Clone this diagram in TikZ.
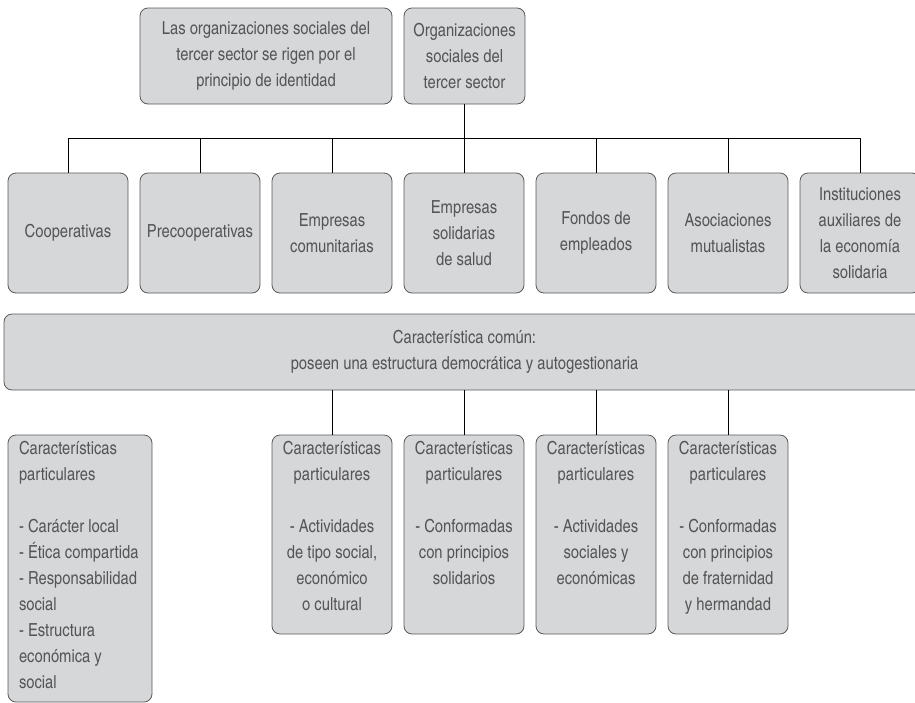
\documentclass[tikz,border=0pt]{standalone}
\usepackage{fontspec}
\setmainfont{texgyreheroscn-regular.otf}
\definecolor{boxfill}{HTML}{D6D7D9}
\definecolor{boxline}{HTML}{5A5A5A}
\definecolor{txt}{HTML}{555555}
\tikzset{
  box/.style={draw=boxline, fill=boxfill, rounded corners=8pt, line width=0.8pt,
    inner sep=0pt, align=center, text=txt, font=\fontsize{18}{26}\selectfont},
  conn/.style={draw=black, line width=0.8pt},
}
\newcommand{\topbox}[2]{\parbox[c][#1][t]{112pt}{\centering #2}}
\begin{document}
\begin{tikzpicture}[x=1pt,y=-1pt]
\useasboundingbox (0,0) rectangle (915,702);
% top
\node[box, minimum width=252pt, minimum height=96pt] (t1) at (266,56)
  {Las organizaciones sociales del\\tercer sector se rigen por el\\principio de identidad};
\node[box, minimum width=121pt, minimum height=96pt] (t2) at (464.5,56)
  {Organizaciones\\sociales del\\tercer sector};
% row 2
\node[box, minimum width=120pt, minimum height=120pt] (r1) at (68,233) {Cooperativas};
\node[box, minimum width=120pt, minimum height=120pt] (r2) at (200,233) {Precooperativas};
\node[box, minimum width=120pt, minimum height=120pt] (r3) at (332,233) {Empresas\\comunitarias};
\node[box, minimum width=120pt, minimum height=120pt] (r4) at (464,233) {Empresas\\solidarias\\de salud};
\node[box, minimum width=120pt, minimum height=120pt] (r5) at (596,233) {Fondos de\\empleados};
\node[box, minimum width=120pt, minimum height=120pt] (r6) at (728,233) {Asociaciones\\mutualistas};
\node[box, minimum width=120pt, minimum height=120pt] (r7) at (860,233) {Instituciones\\auxiliares de\\la economía\\solidaria};
% connectors top
\coordinate (hl) at (68,138);
\coordinate (hr) at (860,138);
\draw[conn] (hl) -- (hr);
\draw[conn] (t2.south) -- (t2.south |- hl);
\foreach \i in {1,...,7} { \draw[conn] (r\i.north |- hl) -- (r\i.north); }
% common
\node[box, minimum width=921pt, minimum height=76pt] (cm) at (464.5,352)
  {Característica común:\\poseen una estructura democrática y autogestionaria};
% bottom
\node[box, minimum width=144pt, minimum height=267pt] (b0) at (80,568.5)
  {\parbox[c][255pt][t]{122pt}{\raggedright Características\\particulares\\~\\- Carácter local\\- Ética compartida\\- Responsabilidad\\social\\- Estructura\\económica y\\social}};
\node[box, minimum width=120pt, minimum height=199pt] (b3) at (332,534.5)
  {\topbox{187pt}{Características\\particulares\\~\\- Actividades\\de tipo social,\\económico\\o cultural}};
\node[box, minimum width=120pt, minimum height=199pt] (b4) at (464,534.5)
  {\topbox{187pt}{Características\\particulares\\~\\- Conformadas\\con principios\\solidarios}};
\node[box, minimum width=120pt, minimum height=199pt] (b5) at (596,534.5)
  {\topbox{187pt}{Características\\particulares\\~\\- Actividades\\sociales y\\económicas}};
\node[box, minimum width=120pt, minimum height=199pt] (b6) at (728,534.5)
  {\topbox{187pt}{Características\\particulares\\~\\- Conformadas\\con principios\\de fraternidad\\y hermandad}};
\foreach \i in {3,...,6} { \draw[conn] (cm.south -| b\i.north) -- (b\i.north); }
\end{tikzpicture}
\end{document}
